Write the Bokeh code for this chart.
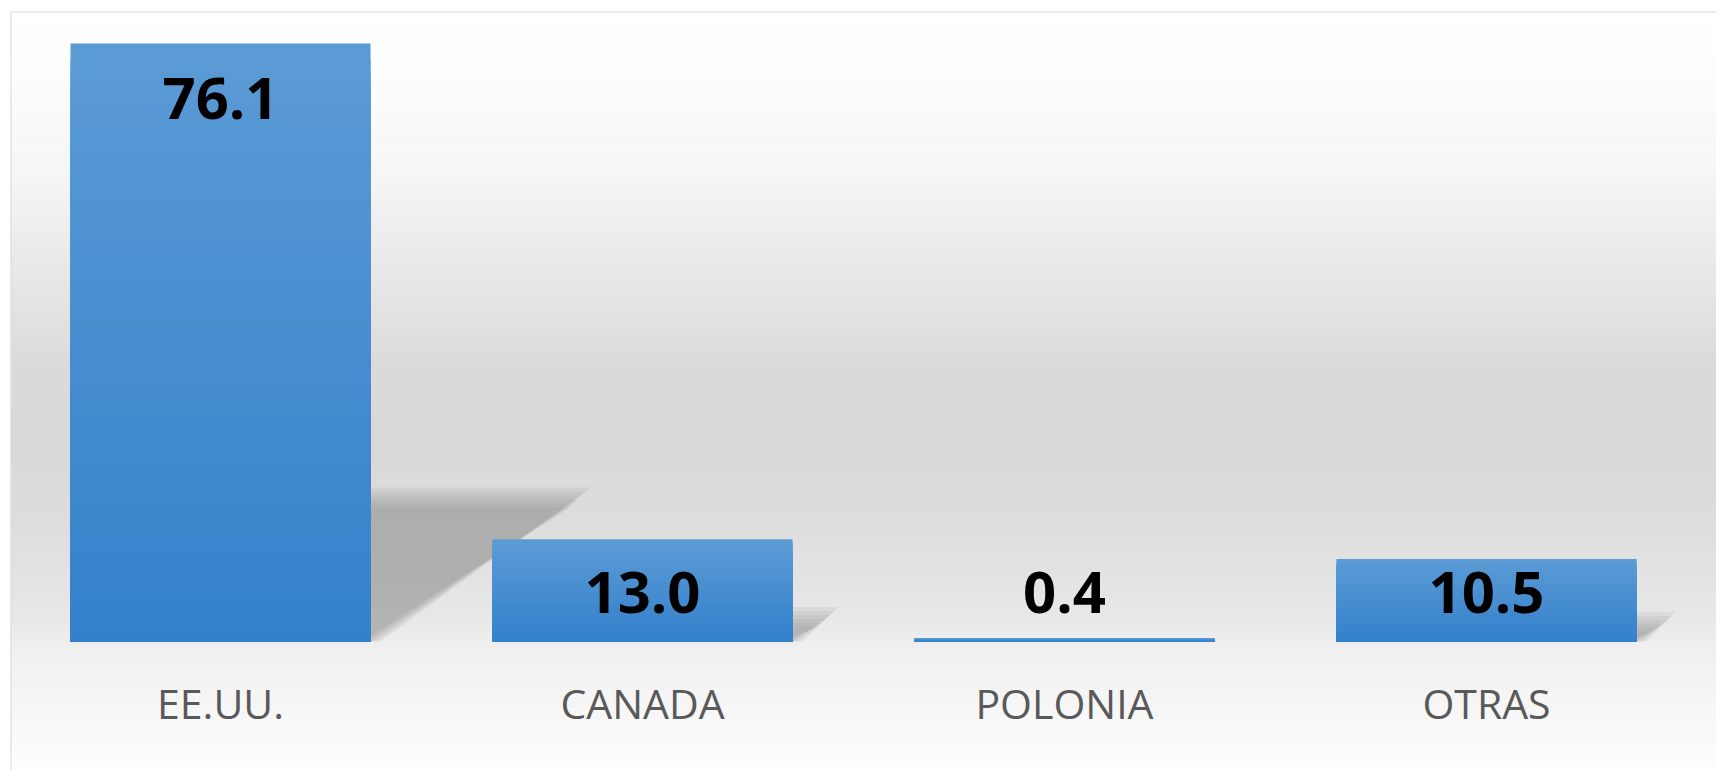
import numpy as np
from bokeh.plotting import figure
from bokeh.models import Range1d, Span
from bokeh.core.properties import value
from bokeh.embed import file_html
from bokeh.resources import INLINE

# ---- data ----
categories = ["EE.UU.", "CANADA", "POLONIA", "OTRAS"]
values = [76.1, 13.0, 0.4, 10.5]
value_labels = ["76.1", "13.0", "0.4", "10.5"]

# ---- layout constants (pixels) ----
PX_CAT = 422.0      # pixels per category
PX_VAL = 7.858      # pixels per value unit
ML, MT = 10, 11     # frame offset inside canvas
FRAME_W = 1716 - ML
FRAME_H = 770 - MT
X0 = -210.0 / PX_CAT
X1 = X0 + FRAME_W / PX_CAT
Y1 = 630.0 / PX_VAL
Y0 = Y1 - FRAME_H / PX_VAL
BAR_W = 300.0 / PX_CAT

x = np.arange(len(categories), dtype=float)
v = np.array(values, dtype=float)

p = figure(width=1716, height=770, x_range=Range1d(X0, X1), y_range=Range1d(Y0, Y1),
           output_backend="svg", toolbar_location=None, title=None,
           x_axis_location=None, y_axis_location=None,
           min_border_left=ML, min_border_top=MT, min_border_right=0, min_border_bottom=0)
p.background_fill_color = "white"
p.border_fill_color = "white"
p.outline_line_color = None
p.grid.grid_line_color = None

# ---- background gradient (style) ----
N = FRAME_H
stops_py = [0, 60, 160, 260, 360, 440, 520, 600, 640, 700, 767]
stops_g = [255, 253, 246, 232, 218, 217, 222, 231, 240, 247, 254]
img = np.zeros((N, 1), dtype=np.uint32)
view = img.view(dtype=np.uint8).reshape((N, 1, 4))
for j in range(N):
    py = FRAME_H - (j + 0.5) * FRAME_H / N   # from top of frame
    g = int(round(np.interp(py, stops_py, stops_g)))
    view[j, 0, 0] = g
    view[j, 0, 1] = g
    view[j, 0, 2] = g
    view[j, 0, 3] = 255
p.image_rgba(image=[img], x=X0, y=Y0, dw=X1 - X0, dh=Y1 - Y0)

# ---- perspective shadows ----
KX = (210.0 / PX_CAT) / 76.1
KY = 0.241
expansions = [-10, -6, -2, 2, 6, 10]
for xi, vi in zip(x, v):
    xl, xr = xi - BAR_W / 2, xi + BAR_W / 2
    s = vi * KX
    h = vi * KY
    scale = min(1.0, h * PX_VAL / 20.0)
    xs_list, ys_list = [], []
    for e in expansions:
        ex = e * scale / PX_CAT
        ey = e * scale / PX_VAL
        top = h + ey
        if top <= 0:
            continue
        xs_list.append([xl, xr + ex, xr + s + ex, xl + s])
        ys_list.append([0, 0, top, top])
    if xs_list:
        p.patches(xs_list, ys_list, fill_color="#8a8a8a", fill_alpha=0.13, line_color=None)

# ---- gradient bars ----
NS = 40
c_top = np.array([91, 155, 213])
c_bot = np.array([51, 128, 203])
for k in range(NS):
    f = 1 - k / NS
    col = c_bot + (c_top - c_bot) * f
    hexcol = "#%02x%02x%02x" % tuple(int(round(c)) for c in col)
    p.vbar(x=x, width=BAR_W, bottom=0, top=v * f, fill_color=hexcol, line_color=None)

# ---- value labels ----
label_y = np.maximum(v - 6.99, 6.24)
p.text(x=x, y=label_y, text=value_labels, text_font=value("Open Sans"),
       text_font_style="bold", text_font_size=value("58px"), text_color="black",
       text_align="center", text_baseline="alphabetic")

# ---- category labels ----
p.text(x=x, y=[-7.89] * len(categories), text=categories, text_font=value("Open Sans"),
       text_font_size=value("41px"), text_color="#595959",
       text_align="center", text_baseline="alphabetic")

# ---- chart border (left / top visible) ----
p.add_layout(Span(location=X0, dimension="height", line_color="#d9d9d9", line_width=2))
p.add_layout(Span(location=Y1, dimension="width", line_color="#d9d9d9", line_width=2))

open("out.html", "w").write(file_html(p, INLINE))
